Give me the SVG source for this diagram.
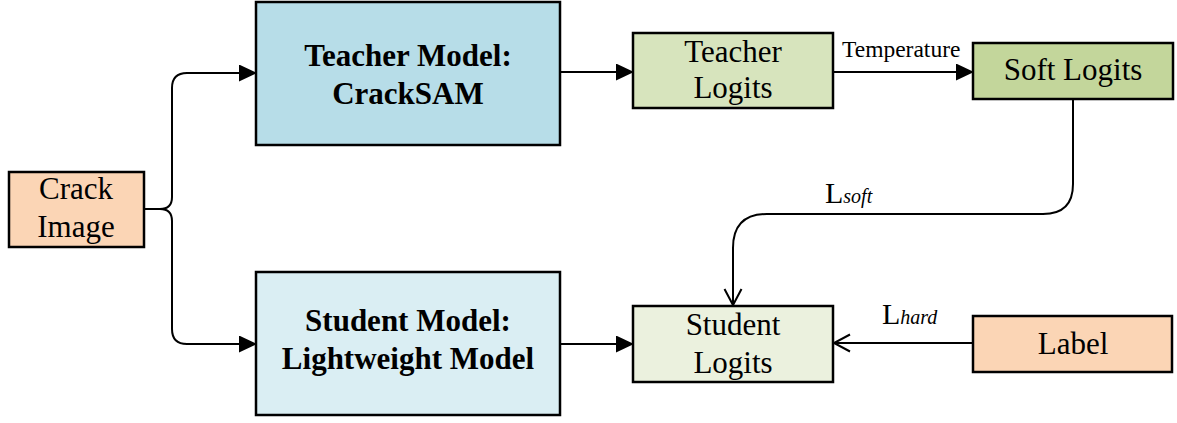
<svg xmlns="http://www.w3.org/2000/svg" width="1177" height="423" viewBox="0 0 1177 423">
  <style>
    .box { stroke: #000; stroke-width: 2.5; }
    .t { font-family: "Liberation Serif", "Times New Roman", serif; font-size: 31px; fill: #000; text-anchor: middle; }
    .b { font-weight: bold; }
    .lbl { font-family: "Liberation Serif", "Times New Roman", serif; fill: #000; }
    .wire { fill: none; stroke: #000; stroke-width: 2; }
  </style>
  <defs>
    <marker id="solid" markerWidth="18" markerHeight="18" refX="17" refY="8.5" orient="auto" markerUnits="userSpaceOnUse">
      <path d="M0,0 L18,8.5 L0,17 Z" fill="#000"/>
    </marker>
    <marker id="open" markerWidth="20" markerHeight="20" refX="17" refY="9.5" orient="auto" markerUnits="userSpaceOnUse">
      <path d="M1,1 L17,9.5 L1,18" fill="none" stroke="#000" stroke-width="2"/>
    </marker>
  </defs>
  <rect width="1177" height="423" fill="#fff"/>

  <!-- connectors -->
  <g id="connectors">
    <!-- input brace splitting to teacher and student -->
    <path class="wire" d="M144,209 H160 Q172,209 172,197 V88 Q172,73 187,73 H256" marker-end="url(#solid)"/>
    <path class="wire" d="M160,209 Q172,209 172,221 V329 Q172,344 187,344 H256" marker-end="url(#solid)"/>
    <path class="wire" d="M560,72 H633" marker-end="url(#solid)"/>
    <path class="wire" d="M833,72 H973" marker-end="url(#solid)"/>
    <path class="wire" d="M560,344 H633" marker-end="url(#solid)"/>
    <!-- soft loss -->
    <path class="wire" d="M1073,99 V184 Q1073,214 1043,214 H767 Q733,214 733,248 V305" marker-end="url(#open)"/>
    <!-- hard loss -->
    <path class="wire" d="M973,343 H834" marker-end="url(#open)"/>
    <text class="lbl" x="842" y="57" font-size="23.5">Temperature</text>
    <text class="lbl" x="825" y="203" font-size="30">L<tspan font-size="20" font-style="italic">soft</tspan></text>
    <text class="lbl" x="882" y="324" font-size="30">L<tspan font-size="20" font-style="italic">hard</tspan></text>
  </g>

  <g id="crack-image">
    <rect class="box" x="9" y="172" width="135" height="75" fill="#FBD5B5"/>
    <text class="t" x="76" y="199">Crack</text>
    <text class="t" x="76" y="237">Image</text>
  </g>

  <g id="teacher-model">
    <rect class="box" x="256" y="2" width="304" height="143" fill="#B7DDE8"/>
    <text class="t b" x="408" y="66">Teacher Model:</text>
    <text class="t b" x="408" y="104">CrackSAM</text>
  </g>

  <g id="student-model">
    <rect class="box" x="256" y="272" width="304" height="143" fill="#DAEEF3"/>
    <text class="t b" x="408" y="331">Student Model:</text>
    <text class="t b" x="408" y="369">Lightweight Model</text>
  </g>

  <g id="teacher-logits">
    <rect class="box" x="633" y="33" width="200" height="75" fill="#D7E4BD"/>
    <text class="t" x="733" y="62">Teacher</text>
    <text class="t" x="733" y="98">Logits</text>
  </g>

  <g id="soft-logits">
    <rect class="box" x="973" y="43" width="200" height="56" fill="#C3D69B"/>
    <text class="t" x="1073" y="80">Soft Logits</text>
  </g>

  <g id="student-logits">
    <rect class="box" x="633" y="306" width="200" height="76" fill="#EBF1DE"/>
    <text class="t" x="733" y="335">Student</text>
    <text class="t" x="733" y="373">Logits</text>
  </g>

  <g id="label">
    <rect class="box" x="973" y="316" width="199" height="56" fill="#FBD5B5"/>
    <text class="t" x="1073" y="354">Label</text>
  </g>
</svg>
